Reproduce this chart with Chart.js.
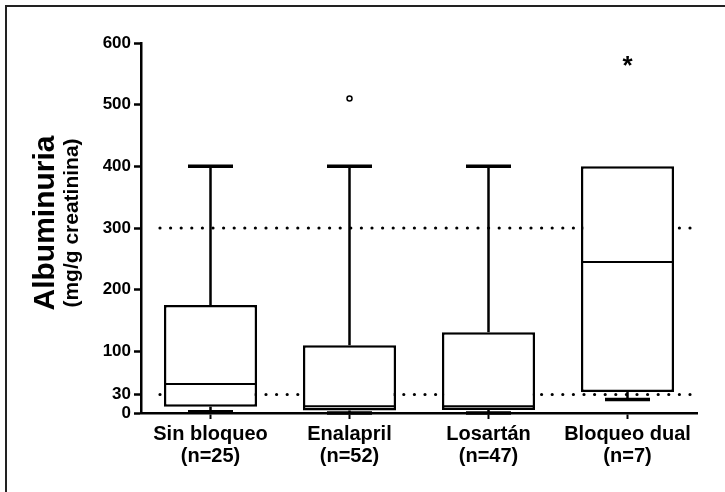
<!DOCTYPE html>
<html>
<head>
<meta charset="utf-8">
<script src="https://cdn.jsdelivr.net/npm/chart.js@4/dist/chart.umd.min.js"></script>
<style>
  html, body { margin: 0; padding: 0; background: #fff; }
  #frame { position: absolute; left: 5px; top: 5px; width: 760px; height: 520px;
           border-top: 2px solid #222; border-left: 2px solid #222; }
  #wrap { position: absolute; left: 0; top: 0; width: 725px; height: 492px; }
</style>
</head>
<body>
<div id="frame"></div>
<div id="wrap"><canvas id="chart"></canvas></div>
<script>
// Box plot values (mg/g creatinina)
const categories = [['Sin bloqueo', '(n=25)'], ['Enalapril', '(n=52)'], ['Losartán', '(n=47)'], ['Bloqueo dual', '(n=7)']];
const whiskerLow = [2, 0, 0, 22];
const q1 = [10, 4, 5, 34];
const median = [47, 11, 11, 245];
const q3 = [175, 110, 131, 400];
const whiskerHigh = [400, 400, 400, 400];
const outlierCircle = [null, 510, null, null];
const outlierStar = [null, null, null, 568];
const yTicks = [0, 30, 100, 200, 300, 400, 500, 600];
const refLines = [30, 300];

const FONT = '"Liberation Sans", Arial, Helvetica, sans-serif';

// dotted reference lines go under the boxes (boxes are white-filled)
const refLinePlugin = {
  id: 'refLines',
  beforeDatasetsDraw(chart) {
    const { ctx, chartArea, scales } = chart;
    ctx.save();
    ctx.strokeStyle = '#000';
    ctx.lineWidth = 3.2;
    ctx.lineCap = 'round';
    ctx.setLineDash([0, 10.6]);
    refLines.forEach((v) => {
      const y = scales.y.getPixelForValue(v);
      ctx.beginPath();
      ctx.moveTo(chartArea.left + 19, y);
      ctx.lineTo(chartArea.right - 2, y);
      ctx.stroke();
    });
    ctx.restore();
  },
};

// whiskers, caps, medians, asterisk outlier and the y-axis title
const boxPartsPlugin = {
  id: 'boxParts',
  afterDatasetsDraw(chart) {
    const { ctx, scales } = chart;
    const y = scales.y;
    const bars = chart.getDatasetMeta(0).data;
    ctx.save();
    ctx.strokeStyle = '#000';
    ctx.lineCap = 'butt';
    bars.forEach((bar, i) => {
      const x = bar.x;
      const half = bar.width / 2;
      const capHalf = 22.5;
      // whiskers
      ctx.lineWidth = 2.5;
      ctx.beginPath();
      ctx.moveTo(x, y.getPixelForValue(q3[i]));
      ctx.lineTo(x, y.getPixelForValue(whiskerHigh[i]));
      ctx.moveTo(x, y.getPixelForValue(q1[i]));
      ctx.lineTo(x, y.getPixelForValue(whiskerLow[i]));
      ctx.stroke();
      // caps
      ctx.lineWidth = 3.5;
      ctx.beginPath();
      if (whiskerHigh[i] > q3[i]) {
        ctx.moveTo(x - capHalf, y.getPixelForValue(whiskerHigh[i]));
        ctx.lineTo(x + capHalf, y.getPixelForValue(whiskerHigh[i]));
      }
      ctx.moveTo(x - capHalf, y.getPixelForValue(whiskerLow[i]));
      ctx.lineTo(x + capHalf, y.getPixelForValue(whiskerLow[i]));
      ctx.stroke();
      // median
      ctx.lineWidth = 2;
      ctx.beginPath();
      ctx.moveTo(x - half + 1, y.getPixelForValue(median[i]));
      ctx.lineTo(x + half - 1, y.getPixelForValue(median[i]));
      ctx.stroke();
    });

    // asterisk outlier
    const starMeta = chart.getDatasetMeta(2);
    ctx.fillStyle = '#000';
    ctx.font = 'bold 26px ' + FONT;
    ctx.textAlign = 'center';
    ctx.textBaseline = 'middle';
    starMeta.data.forEach((pt, i) => {
      if (outlierStar[i] == null) return;
      ctx.fillText('*', pt.x, pt.y + 4);
    });

    // y-axis title, two lines in two sizes
    ctx.translate(0, (chart.chartArea.top + chart.chartArea.bottom) / 2 - 5);
    ctx.rotate(-Math.PI / 2);
    ctx.textBaseline = 'alphabetic';
    ctx.font = 'bold 30px ' + FONT;
    ctx.fillText('Albuminuria', 0, 54);
    ctx.font = 'bold 21px ' + FONT;
    ctx.fillText('(mg/g creatinina)', 0, 78);
    ctx.restore();
  },
};

new Chart(document.getElementById('chart'), {
  type: 'bar',
  data: {
    labels: categories,
    datasets: [
      {
        data: q1.map((v, i) => [v, q3[i]]),
        backgroundColor: '#fff',
        borderColor: '#000',
        borderWidth: 2.5,
        borderSkipped: false,
        barPercentage: 0.67,
        categoryPercentage: 1,
      },
      {
        type: 'line',
        data: outlierCircle,
        showLine: false,
        pointStyle: 'circle',
        pointRadius: 2.5,
        pointBorderWidth: 1.5,
        pointBorderColor: '#000',
        pointBackgroundColor: '#fff',
      },
      {
        type: 'line',
        data: outlierStar,
        showLine: false,
        pointRadius: 0,
      },
    ],
  },
  options: {
    responsive: true,
    maintainAspectRatio: false,
    animation: false,
    events: [],
    layout: { padding: { left: 0, right: 28, top: 43, bottom: 0 } },
    plugins: { legend: { display: false }, tooltip: { enabled: false } },
    scales: {
      x: {
        offset: true,
        grid: { offset: false, drawOnChartArea: false, tickLength: 6, tickWidth: 2, tickColor: '#000' },
        border: { color: '#000', width: 2.5 },
        ticks: { color: '#000', font: { family: FONT, size: 20, weight: 'bold', lineHeight: 1.1 }, padding: 4, maxRotation: 0 },
        afterFit(scale) { scale.height = 79; },
      },
      y: {
        min: 0,
        max: 600,
        afterBuildTicks(scale) { scale.ticks = yTicks.map((v) => ({ value: v })); },
        grid: { drawOnChartArea: false, tickLength: 7, tickWidth: 2.5, tickColor: '#000' },
        border: { color: '#000', width: 2.5 },
        ticks: { color: '#000', font: { family: FONT, size: 17, weight: 'bold' }, padding: 3 },
        afterFit(scale) { scale.width = 141; },
      },
    },
  },
  plugins: [refLinePlugin, boxPartsPlugin],
});
</script>
</body>
</html>
